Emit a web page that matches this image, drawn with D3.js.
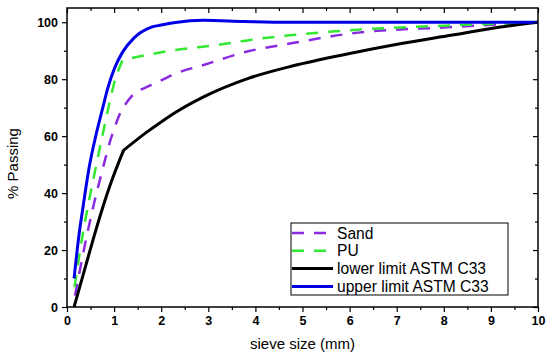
<!DOCTYPE html>
<html>
<head>
<meta charset="utf-8">
<script src="https://cdn.jsdelivr.net/npm/d3@7"></script>
<style>
  body { margin: 0; background: #fff; }
  text { font-family: "Liberation Sans", Arial, sans-serif; }
</style>
</head>
<body>
<script>
// sieve sizes (mm) and % passing
var sandX  = [0.17, 0.42, 0.54, 0.75, 0.93, 1.15, 1.36, 1.78, 2.0, 2.28, 2.9, 3.85, 4.73, 6.0, 8.15, 10];
var sandY  = [4, 25, 34, 48, 59, 69, 73.8, 77.9, 79.6, 81.8, 85, 89.8, 92.5, 96, 98.3, 100];

var puX    = [0.16, 0.35, 0.44, 0.61, 0.75, 0.9, 1.0, 1.18, 1.98, 3.39, 3.89, 4.73, 6.0, 8.15, 10];
var puY    = [7, 27, 35, 49, 60, 71.5, 78.5, 86.7, 89.4, 92.5, 93.8, 95.4, 97.2, 98.9, 100];

var lowX   = [0.15, 0.38, 0.56, 0.75, 0.92, 1.2, 1.7, 2.0, 2.3, 2.9, 3.85, 4.8, 6.0, 7.1, 8.15, 9.2, 10];
var lowY   = [0, 13.5, 24, 34.5, 43, 55, 61.5, 65, 68.3, 73.8, 80.3, 84.7, 89, 92.5, 95.4, 98.3, 100];

var upX    = [0.15, 0.26, 0.33, 0.47, 0.61, 0.76, 0.86, 1.0, 1.18, 1.43, 1.78, 2.0, 2.3, 2.9, 3.75, 4.7, 10];
var upY    = [10, 26, 34, 49, 60, 70, 76.5, 83.5, 89.5, 94.6, 98.2, 99, 99.9, 100.7, 100.3, 100, 100];

var seriesNames = ["Sand", "PU", "lower limit ASTM C33", "upper limit ASTM C33"];
var xTicks = [0, 1, 2, 3, 4, 5, 6, 7, 8, 9, 10];
var yTicks = [0, 20, 40, 60, 80, 100];

var margin = {left: 67, right: 12, top: 8, bottom: 50},
    width = 550 - margin.left - margin.right,
    height = 357 - margin.top - margin.bottom;

var svg = d3.select("body").append("svg")
    .attr("width", 550)
    .attr("height", 357)
    .append("g")
    .attr("transform", "translate(" + margin.left + "," + margin.top + ")");

var x = d3.scaleLinear().domain([0, 10]).range([0, width]);
var y = d3.scaleLinear().domain([0, 105]).range([height, 0]);

// curves (kink = index of the sharp corner near 1.18 mm, -1 for none)
var series = [
    {name: seriesNames[0], xs: sandX, ys: sandY, kink: 5, color: "#8a2be2", width: 2.5, dash: "12,10"},
    {name: seriesNames[1], xs: puX, ys: puY, kink: 7, color: "#33e833", width: 2.5, dash: "12,10"},
    {name: seriesNames[2], xs: lowX, ys: lowY, kink: 5, color: "#000000", width: 3, dash: null},
    {name: seriesNames[3], xs: upX, ys: upY, kink: -1, color: "#0000e6", width: 3, dash: null}
];

var line = d3.line()
    .x(function(d) { return x(d[0]); })
    .y(function(d) { return y(d[1]); })
    .curve(d3.curveMonotoneX);

function pathFor(s) {
    var pts = d3.zip(s.xs, s.ys);
    if (s.kink < 0) return line(pts);
    var a = line(pts.slice(0, s.kink + 1));
    var b = line(pts.slice(s.kink));
    return a + "L" + b.slice(1);
}

series.forEach(function(s) {
    svg.append("path")
        .attr("d", pathFor(s))
        .attr("fill", "none")
        .attr("stroke", s.color)
        .attr("stroke-width", s.width)
        .attr("stroke-dasharray", s.dash)
        .attr("stroke-linejoin", "round");
});

// axes: major + minor ticks, mirrored inward on top/right
var xMinor = d3.range(0.5, 10, 1);
var yMinor = d3.range(10, 105, 20);

function styleAxis(g) {
    g.select(".domain").remove();
    g.selectAll("line").attr("stroke", "#000").attr("stroke-width", 1.2);
}

svg.append("g").attr("transform", "translate(0," + height + ")")
    .call(d3.axisBottom(x).tickValues(xTicks).tickFormat(d3.format("d")).tickSize(5).tickPadding(4))
    .call(styleAxis)
    .selectAll("text").attr("font-size", 12.5).attr("font-weight", "bold").attr("fill", "#000");
svg.append("g").attr("transform", "translate(0," + height + ")")
    .call(d3.axisBottom(x).tickValues(xMinor).tickFormat("").tickSize(3)).call(styleAxis);
svg.append("g")
    .call(d3.axisTop(x).tickValues(xTicks).tickFormat("").tickSize(-5)).call(styleAxis);
svg.append("g")
    .call(d3.axisTop(x).tickValues(xMinor).tickFormat("").tickSize(-3)).call(styleAxis);

svg.append("g")
    .call(d3.axisLeft(y).tickValues(yTicks).tickFormat(d3.format("d")).tickSize(5).tickPadding(4))
    .call(styleAxis)
    .selectAll("text").attr("font-size", 12.5).attr("font-weight", "bold").attr("fill", "#000");
svg.append("g")
    .call(d3.axisLeft(y).tickValues(yMinor).tickFormat("").tickSize(3)).call(styleAxis);
svg.append("g").attr("transform", "translate(" + width + ",0)")
    .call(d3.axisRight(y).tickValues(yTicks).tickFormat("").tickSize(-5)).call(styleAxis);
svg.append("g").attr("transform", "translate(" + width + ",0)")
    .call(d3.axisRight(y).tickValues(yMinor).tickFormat("").tickSize(-3)).call(styleAxis);

// frame
svg.append("rect")
    .attr("width", width)
    .attr("height", height)
    .attr("fill", "none")
    .attr("stroke", "#000")
    .attr("stroke-width", 1.5);

// axis titles
svg.append("text")
    .attr("x", width / 2)
    .attr("y", height + 42)
    .attr("text-anchor", "middle")
    .attr("font-size", 15)
    .text("sieve size (mm)");

svg.append("text")
    .attr("transform", "translate(" + (-49) + "," + (height / 2 + 6) + ") rotate(-90)")
    .attr("text-anchor", "middle")
    .attr("font-size", 15)
    .text("% Passing");

// legend
var legend = svg.append("g").attr("transform", "translate(" + (291 - margin.left) + "," + (223 - margin.top) + ")");
legend.append("rect")
    .attr("width", 217)
    .attr("height", 72)
    .attr("fill", "#fff")
    .attr("stroke", "#000")
    .attr("stroke-width", 1);

series.forEach(function(s, i) {
    var ly = 10 + i * 17.8;
    legend.append("line")
        .attr("x1", 1).attr("x2", 42)
        .attr("y1", ly).attr("y2", ly)
        .attr("stroke", s.color)
        .attr("stroke-width", s.width)
        .attr("stroke-dasharray", s.dash);
    legend.append("text")
        .attr("x", 46)
        .attr("y", ly + 5.5)
        .attr("font-size", 15.6)
        .text(s.name);
});
</script>
</body>
</html>
